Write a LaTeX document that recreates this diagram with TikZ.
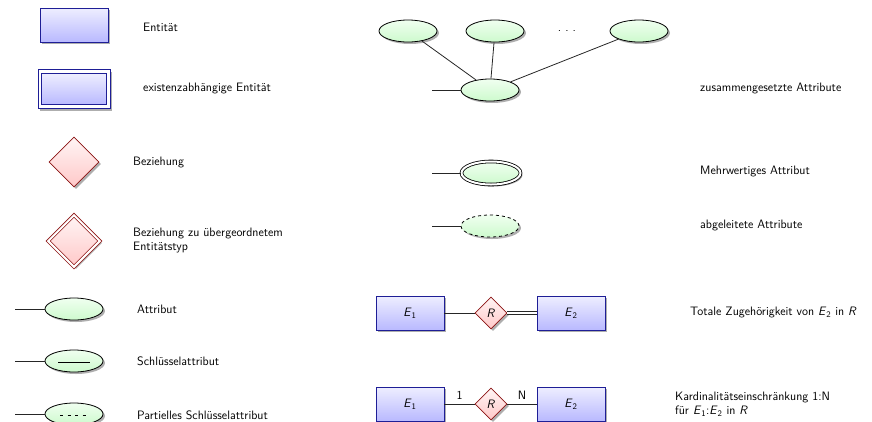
\documentclass[tikz,border=0pt]{standalone}
\usetikzlibrary{shapes.geometric,shadows}
\definecolor{entborder}{RGB}{30,30,150}
\definecolor{relborder}{RGB}{140,20,20}
\definecolor{enttop}{RGB}{238,238,255}
\definecolor{entbot}{RGB}{185,185,255}
\definecolor{reltop}{RGB}{255,245,245}
\definecolor{relbot}{RGB}{255,200,200}
\definecolor{atttop}{RGB}{240,255,240}
\definecolor{attbot}{RGB}{205,250,205}
\newcommand{\Esub}[1]{\textit{E}\textsubscript{#1}}
\begin{document}
\begin{tikzpicture}[x=1pt,y=-1pt,
  every node/.style={font=\fontsize{12.2}{14}\selectfont\sffamily},
  shad/.style={drop shadow={shadow xshift=2pt,shadow yshift=-2pt,opacity=.45,fill=black!70}},
  entity/.style={rectangle,draw=entborder,line width=0.8pt,minimum width=68pt,minimum height=34pt,inner sep=0pt,top color=enttop,bottom color=entbot,shad},
  weakouter/.style={rectangle,draw=entborder,line width=0.8pt,minimum width=72pt,minimum height=39pt,inner sep=0pt,fill=white,shad},
  weakinner/.style={rectangle,draw=entborder,line width=0.8pt,minimum width=65pt,minimum height=31pt,inner sep=0pt,top color=enttop,bottom color=entbot},
  rel/.style={diamond,draw=relborder,line width=0.8pt,minimum width=50pt,minimum height=50pt,inner sep=0pt,top color=reltop,bottom color=relbot,shad},
  weakrel/.style={rel,double,double distance=2pt,minimum width=52pt,minimum height=52pt},
  smallrel/.style={rel,minimum width=32pt,minimum height=32pt},
  attr/.style={ellipse,draw=black,line width=0.8pt,minimum width=58pt,minimum height=22pt,inner sep=0pt,top color=atttop,bottom color=attbot,shad},
  multiattr/.style={attr,double,double distance=2pt,minimum width=59pt,minimum height=23pt},
  derattr/.style={attr,dashed},
  conn/.style={draw=black!85,line width=0.8pt},
  label/.style={anchor=west,inner sep=0pt,align=left}
]
\clip (0,0) rectangle (872,421);
% left column
\node[entity] (ent) at (74,25) {};
\node[label] (lent) at (143,27) {Entität};
\node[weakouter] (wento) at (74,89) {};
\node[weakinner] (wenti) at (74,89) {};
\node[label] (lwent) at (143,89) {existenzabhängige Entität};
\node[rel] (rel) at (74,162) {};
\node[label] (lrel) at (133,163) {Beziehung};
\node[weakrel] (wrel) at (74,241) {};
\node[label] (lwrel) at (133,241) {Beziehung zu übergeordnetem\\Entitätstyp};
\coordinate (a1s) at (15,309);
\node[attr] (a1) at (74,309) {};
\draw[conn] (a1s) -- (a1);
\node[label] (la1) at (137,309) {Attribut};
\coordinate (a2s) at (15,361);
\node[attr] (a2) at (74,361) {};
\draw[conn] (a2s) -- (a2);
\draw[line width=0.8pt] ([xshift=-16pt,yshift=-1.5pt]a2.center) -- ([xshift=16pt,yshift=-1.5pt]a2.center);
\node[label] (la2) at (137,361) {Schlüsselattribut};
\coordinate (a3s) at (15,414);
\node[attr] (a3) at (74,414) {};
\draw[conn] (a3s) -- (a3);
\draw[line width=0.8pt,dash pattern=on 3pt off 4.5pt] ([xshift=-14pt,yshift=-1.5pt]a3.center) -- ([xshift=14pt,yshift=-1.5pt]a3.center);
\node[label] (la3) at (137,415) {Partielles Schlüsselattribut};
% composite
\node[attr] (c1) at (408,31) {};
\node[attr] (c2) at (495,31) {};
\node[attr] (c3) at (639,31) {};
\node (dots) at (567,31) {.\,\,.\,\,.};
\node[attr] (cb) at (490,90) {};
\coordinate (cbs) at (432,90);
\draw[conn] (cbs) -- (cb);
\draw[conn] (c1) -- (cb);
\draw[conn] (c2) -- (cb);
\draw[conn] (c3) -- (cb);
\node[label] (lc) at (700,89) {zusammengesetzte Attribute};
% multivalued
\node[multiattr] (mv) at (491,173) {};
\coordinate (mvs) at (432,173);
\draw[conn] (mvs) -- (mv);
\node[label] (lmv) at (700,172) {Mehrwertiges Attribut};
% derived
\node[derattr] (dv) at (490,226) {};
\coordinate (dvs) at (432,226);
\draw[conn] (dvs) -- (dv);
\node[label] (ldv) at (700,226) {abgeleitete Attribute};
% total participation
\node[entity] (t1) at (410,313) {\Esub{1}};
\node[smallrel] (tr) at (491,313) {\textit{R}};
\node[entity] (t2) at (571,313) {\Esub{2}};
\draw[conn] (t1) -- (tr);
\draw[conn,double,double distance=1.6pt] (tr) -- (t2);
\node[label] (lt) at (690,313) {Totale Zugehörigkeit von \Esub{2} in \textit{R}};
% cardinality
\node[entity] (k1) at (410,404) {\Esub{1}};
\node[smallrel] (kr) at (491,404) {\textit{R}};
\node[entity] (k2) at (571,404) {\Esub{2}};
\draw[conn] (k1) -- node[above=1pt,pos=0.5] {1} (kr);
\draw[conn] (kr) -- node[above=1pt,pos=0.5] {N} (k2);
\node[label] (lk) at (675,404) {Kardinalitätseinschränkung 1:N\\für \Esub{1}:\Esub{2} in \textit{R}};
\end{tikzpicture}
\end{document}
